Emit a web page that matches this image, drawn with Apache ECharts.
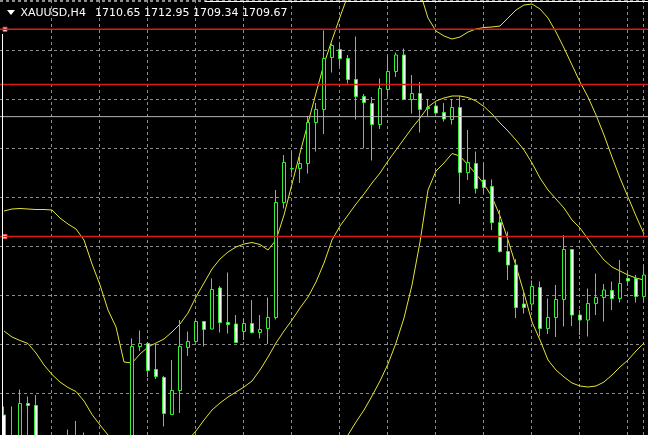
<!DOCTYPE html>
<html>
<head>
<meta charset="utf-8">
<script src="https://cdn.jsdelivr.net/npm/echarts@6/dist/echarts.min.js"></script>
<style>
html,body{margin:0;padding:0;background:#000;overflow:hidden;}
#c{width:648px;height:435px;}
</style>
</head>
<body>
<div id="c"></div>
<script>
// ---- header ----
const symbolName = 'XAUUSD,H4';
const headerValues = ['1710.65', '1712.95', '1709.34', '1709.67'];

// ---- OHLC (H4 bars, left to right) ----
const opens = [
  1650.0, 1645.4, 1644.0, 1652.3, 1651.9, 1644.0, 1641.4, 1639.0, 1642.0, 1645.0,
  1643.6, 1641.0, 1638.0, 1639.4, 1636.0, 1638.6, 1637.4, 1663.7, 1664.3, 1659.1,
  1657.5, 1650.1, 1654.9, 1663.5, 1664.7, 1668.7, 1667.2, 1675.4, 1668.5, 1668.2,
  1666.7, 1668.3, 1666.5, 1667.3, 1669.5, 1692.5, 1699.2, 1699.3, 1700.3, 1708.5,
  1711.1, 1721.5, 1723.1, 1721.3, 1717.1, 1713.7, 1712.3, 1708.1, 1715.1, 1718.7,
  1722.0, 1713.1, 1714.3, 1711.5, 1711.8, 1710.5, 1709.1, 1711.5, 1698.5, 1700.3,
  1697.0, 1695.7, 1688.5, 1682.7, 1680.0, 1672.2, 1672.2, 1675.5, 1667.3, 1669.5,
  1673.1, 1683.1, 1670.0, 1669.0, 1672.3, 1673.5, 1674.9, 1673.3, 1677.3, 1677.3, 1673.7
];
const closes = [
  1644.0, 1644.2, 1652.3, 1651.9, 1644.0, 1641.4, 1639.0, 1642.0, 1645.0, 1643.6,
  1641.0, 1638.0, 1639.4, 1636.0, 1638.6, 1637.0, 1663.7, 1664.3, 1658.9, 1657.7,
  1650.3, 1654.9, 1663.7, 1664.7, 1668.7, 1667.1, 1675.1, 1668.5, 1668.1, 1664.5,
  1668.3, 1666.5, 1667.1, 1669.5, 1692.5, 1700.5, 1699.3, 1700.3, 1708.5, 1711.1,
  1721.3, 1723.9, 1721.3, 1717.1, 1713.7, 1712.5, 1708.1, 1715.3, 1718.7, 1722.0,
  1713.1, 1714.3, 1711.1, 1711.3, 1710.4, 1709.2, 1711.5, 1698.5, 1700.5, 1695.3,
  1695.5, 1688.5, 1682.7, 1680.0, 1671.5, 1671.5, 1675.7, 1667.3, 1669.5, 1673.1,
  1683.1, 1670.0, 1669.0, 1672.3, 1673.5, 1675.0, 1673.3, 1676.3, 1676.8, 1673.7, 1678.0
];
const lows = [
  1643.0, 1643.0, 1643.4, 1645.0, 1643.0, 1640.0, 1637.4, 1637.0, 1641.0, 1642.6,
  1639.8, 1636.6, 1635.0, 1634.6, 1633.4, 1633.0, 1636.6, 1662.8, 1657.6, 1657.2,
  1647.7, 1650.1, 1650.4, 1661.8, 1664.7, 1663.7, 1667.1, 1666.5, 1666.3, 1664.4,
  1665.0, 1666.3, 1665.3, 1664.2, 1669.1, 1691.3, 1698.3, 1696.4, 1698.3, 1702.7,
  1706.2, 1718.5, 1719.8, 1716.3, 1709.1, 1703.3, 1700.9, 1707.2, 1713.7, 1717.6,
  1713.1, 1710.3, 1706.5, 1709.8, 1710.2, 1708.7, 1708.1, 1692.2, 1697.0, 1694.3,
  1694.4, 1687.0, 1682.5, 1677.0, 1669.4, 1670.3, 1670.9, 1665.7, 1666.2, 1665.6,
  1667.7, 1667.8, 1666.0, 1665.7, 1670.0, 1668.7, 1671.0, 1672.5, 1675.8, 1672.5, 1672.7
];
const highs = [
  1651.7, 1651.7, 1655.1, 1653.7, 1654.0, 1645.4, 1643.0, 1643.4, 1647.1, 1648.8,
  1646.5, 1642.6, 1640.6, 1642.0, 1640.0, 1641.0, 1665.3, 1666.9, 1664.6, 1664.2,
  1657.8, 1661.0, 1669.0, 1666.7, 1669.1, 1668.8, 1677.3, 1675.8, 1678.5, 1670.0,
  1669.3, 1673.0, 1670.0, 1673.5, 1695.0, 1702.0, 1702.7, 1701.7, 1709.8, 1712.4,
  1726.9, 1724.3, 1724.3, 1722.0, 1725.7, 1714.2, 1713.6, 1717.3, 1721.8, 1722.5,
  1723.3, 1718.0, 1716.6, 1713.2, 1712.5, 1712.4, 1713.2, 1713.8, 1707.0, 1702.7,
  1700.3, 1697.1, 1691.0, 1686.7, 1681.2, 1675.0, 1676.9, 1676.7, 1673.3, 1676.0,
  1686.0, 1683.2, 1671.0, 1675.3, 1678.3, 1676.2, 1676.7, 1681.0, 1678.6, 1678.0, 1680.0
];

// ---- Bollinger bands ----
const upperBand = [
  1690.8, 1691.2, 1691.3, 1691.2, 1691.1, 1691.1, 1691.0, 1689.4, 1688.2, 1687.2,
  1685.0, 1680.2, 1676.0, 1671.0, 1667.6, 1660.6, 1660.4, 1662.2, 1663.6, 1664.4,
  1665.2, 1666.6, 1668.2, 1670.4, 1673.6, 1676.4, 1679.2, 1681.2, 1682.6, 1683.6,
  1684.2, 1684.5, 1684.1, 1683.0, 1685.0, 1690.0, 1696.2, 1702.4, 1708.4, 1714.4,
  1720.2, 1725.0, 1729.6, 1734.0, 1738.0, 1741.0, 1743.0, 1744.0, 1744.0, 1743.0,
  1741.0, 1738.0, 1734.6, 1729.4, 1726.8, 1725.8, 1725.2, 1725.6, 1726.6, 1727.2,
  1727.5, 1727.6, 1727.8, 1729.4, 1731.0, 1732.0, 1732.2, 1731.2, 1729.4, 1726.6,
  1723.4, 1720.0, 1716.6, 1713.6, 1710.0, 1706.0, 1701.6, 1697.4, 1693.6, 1689.8, 1686.2
];
const middleBand = [
  1666.8, 1665.6, 1664.9, 1664.3, 1662.4, 1660.0, 1658.1, 1656.6, 1655.5, 1654.7,
  1652.8, 1650.1, 1648.0, 1646.0, 1643.4, 1641.4, 1640.0, 1639.4, 1639.4, 1640.0,
  1641.0, 1642.6, 1644.2, 1645.0, 1646.8, 1649.0, 1651.0, 1652.4, 1653.6, 1654.6,
  1655.6, 1656.8, 1659.0, 1661.6, 1664.4, 1666.8, 1669.0, 1671.4, 1673.6, 1676.6,
  1680.4, 1685.0, 1687.8, 1690.0, 1692.2, 1694.2, 1696.4, 1698.4, 1700.8, 1703.0,
  1705.2, 1707.4, 1709.4, 1711.6, 1712.8, 1713.4, 1713.8, 1713.8, 1713.5, 1712.8,
  1711.7, 1710.2, 1708.4, 1706.8, 1705.0, 1703.0, 1700.4, 1697.4, 1695.0, 1693.2,
  1691.4, 1689.0, 1687.4, 1685.2, 1683.0, 1681.0, 1679.6, 1678.8, 1678.0, 1677.4, 1677.0
];
const lowerBand = [
  1642.8, 1640.0, 1638.5, 1637.4, 1633.7, 1628.9, 1625.2, 1623.8, 1622.8, 1622.2,
  1620.6, 1620.0, 1620.0, 1621.0, 1619.2, 1622.2, 1619.6, 1616.6, 1615.2, 1615.6,
  1616.8, 1618.6, 1620.2, 1619.6, 1620.0, 1621.6, 1622.8, 1623.6, 1624.6, 1625.6,
  1627.0, 1629.2, 1633.9, 1640.2, 1643.8, 1643.8, 1641.8, 1640.4, 1638.8, 1638.8,
  1640.6, 1644.0, 1644.6, 1646.0, 1648.6, 1651.0, 1653.8, 1656.8, 1660.2, 1664.4,
  1669.4, 1676.0, 1684.6, 1695.0, 1698.8, 1700.4, 1702.3, 1701.8, 1700.0, 1698.2,
  1696.2, 1693.6, 1689.8, 1685.0, 1679.8, 1674.4, 1668.6, 1665.0, 1661.0, 1659.0,
  1657.6, 1656.4, 1655.8, 1655.6, 1655.8, 1656.6, 1658.0, 1659.6, 1661.0, 1662.8, 1664.4
];

// ---- horizontal objects ----
const redLevels = [1727.15, 1716.1, 1685.7];
const anchoredLevels = [1727.15, 1685.7];
const bidPrice = 1709.67;

const categories = opens.map((_, i) => 'Bar ' + (i + 1));

const EDGE = '#33f033';
const BAND_COLOR = '#e4e436';
const GRID_COLOR = '#8c8c8c';
const RED = '#dd1a1a';
const BID_COLOR = '#b4b4b4';

const candleData = opens.map((o, i) => [o, closes[i], lows[i], highs[i]]);

const chart = echarts.init(document.getElementById('c'), null, { renderer: 'canvas' });

function bandSeries(name, data) {
  return {
    name, type: 'line', data, xAxisIndex: 0, yAxisIndex: 0,
    showSymbol: false, symbol: 'none', silent: true, z: 2,
    color: BAND_COLOR,
    lineStyle: { color: BAND_COLOR, width: 1 },
    emphasis: { disabled: true }
  };
}

const staticGraphics = [
  { id: 'frameLeft', type: 'line', z: 100, shape: { x1: 2.5, y1: 34, x2: 2.5, y2: 435 }, style: { stroke: '#ffffff', lineWidth: 1 } },
  { id: 'frameTop', type: 'line', z: 100, shape: { x1: 205, y1: 1.5, x2: 648, y2: 1.5 }, style: { stroke: '#ffffff', lineWidth: 1 } },
  { id: 'tri', type: 'polygon', z: 100, shape: { points: [[7, 10], [15, 10], [11, 15]] }, style: { fill: '#ffffff' } },
  { id: 'sym', type: 'text', z: 100, x: 20.5, y: 13, style: { text: symbolName, fill: '#ffffff', font: '11px "DejaVu Sans"', verticalAlign: 'middle', align: 'left' } },
  { id: 'vals', type: 'text', z: 100, x: 95, y: 13, style: { text: headerValues.join(' '), fill: '#ffffff', font: '11px "DejaVu Sans"', verticalAlign: 'middle', align: 'left' } }
];

const option = {
  backgroundColor: '#000000',
  animation: false,
  grid: [
    { left: 0, top: 0, width: 648, height: 442, outerBoundsMode: 'none', containLabel: false },
    { left: 51, top: 0, width: 592, height: 442, outerBoundsMode: 'none', containLabel: false }
  ],
  xAxis: [
    {
      type: 'category', data: categories, gridIndex: 0, boundaryGap: true,
      axisLine: { show: false }, axisTick: { show: false }, axisLabel: { show: false },
      splitLine: { show: false }
    },
    {
      type: 'value', gridIndex: 1, min: 6, max: opens.length - 1, interval: 6,
      axisLine: { show: false }, axisTick: { show: false }, axisLabel: { show: false },
      splitLine: { show: true, lineStyle: { color: GRID_COLOR, width: 1, type: [3, 3] } }
    }
  ],
  yAxis: [
    {
      type: 'value', gridIndex: 0, min: 1644.6, max: 1733, interval: 9.8,
      axisLine: { show: false }, axisTick: { show: false }, axisLabel: { show: false },
      splitLine: { show: true, lineStyle: { color: GRID_COLOR, width: 1, type: [3, 3] } }
    },
    { type: 'value', gridIndex: 1, min: 0, max: 1, show: false }
  ],
  series: [
    bandSeries('Upper', upperBand),
    bandSeries('Middle', middleBand),
    bandSeries('Lower', lowerBand),
    {
      name: symbolName, type: 'candlestick', data: candleData,
      xAxisIndex: 0, yAxisIndex: 0, barWidth: 4, z: 3, silent: true,
      itemStyle: {
        color: '#000000', color0: '#ffffff',
        borderColor: EDGE, borderColor0: EDGE, borderWidth: 1
      },
      emphasis: { disabled: true }
    },
    {
      name: 'anchors', type: 'scatter', xAxisIndex: 0, yAxisIndex: 0, z: 5, silent: true,
      data: anchoredLevels.map(v => [0, v]),
      symbol: 'rect', symbolSize: 4, symbolOffset: [1, 0],
      itemStyle: { color: '#ffffff', borderColor: '#e05050', borderWidth: 1, opacity: 1 },
      emphasis: { disabled: true }
    }
  ],
  graphic: staticGraphics
};

chart.setOption(option);

// horizontal price objects: positioned through the value axis scale
function levelLine(id, value, color, width) {
  const y = chart.convertToPixel({ yAxisIndex: 0 }, value);
  return {
    id, type: 'line', z: 50, silent: true,
    shape: { x1: 0, y1: y, x2: 648, y2: y },
    style: { stroke: color, lineWidth: width }
  };
}
const levelGraphics = redLevels.map((v, i) => levelLine('red' + i, v, RED, 1.6))
  .concat([levelLine('bid', bidPrice, BID_COLOR, 1)]);

chart.setOption({ graphic: staticGraphics.concat(levelGraphics) });
</script>
</body>
</html>
